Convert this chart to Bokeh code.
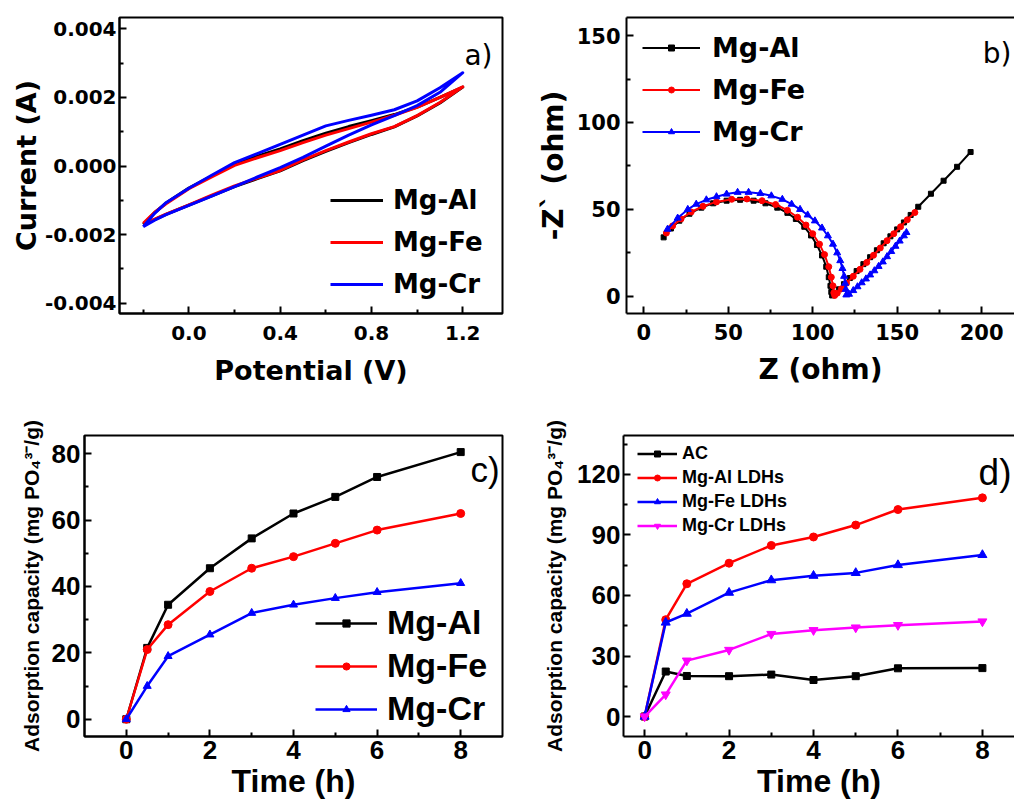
from bokeh.plotting import figure
from bokeh.models import (Range1d, FixedTicker, LinearAxis, Legend, LegendItem,
                          Label, PrintfTickFormatter)
from bokeh.layouts import column, row
from bokeh.embed import file_html
from bokeh.resources import INLINE

# ---------------- data ----------------
# a) cyclic voltammetry: potential grid, upper (anodic) and lower (cathodic) branches
cv_potential = [-0.2, -0.15, -0.1, 0.0, 0.1, 0.2, 0.3, 0.4, 0.5, 0.6, 0.7, 0.8, 0.9, 1.0, 1.1, 1.2]
cv_al_upper = [-0.0017, -0.00136, -0.00108, -0.00064, -0.00029, 0.00005, 0.00029, 0.0005, 0.00074,
               0.00096, 0.00115, 0.00132, 0.0015, 0.00172, 0.002, 0.0023]
cv_al_lower = [-0.0017, -0.00156, -0.00141, -0.00114, -0.00087, -0.0006, -0.00037, -0.00014, 0.00016,
               0.00043, 0.00068, 0.00092, 0.00114, 0.00146, 0.00184, 0.0023]
cv_fe_upper = [-0.00167, -0.00135, -0.0011, -0.00066, -0.00032, 0.00002, 0.00024, 0.00045, 0.00068,
               0.0009, 0.00109, 0.00128, 0.00148, 0.00171, 0.002, 0.00231]
cv_fe_lower = [-0.00167, -0.00155, -0.0014, -0.00113, -0.00085, -0.00058, -0.00035, -0.00013, 0.00018,
               0.00045, 0.0007, 0.00094, 0.00115, 0.00147, 0.00185, 0.00231]
cv_cr_upper = [-0.00177, -0.00138, -0.00107, -0.00065, -0.00027, 0.0001, 0.00036, 0.00063, 0.0009,
               0.00117, 0.00133, 0.00148, 0.00164, 0.0019, 0.00228, 0.00272]
cv_cr_lower = [-0.00177, -0.00158, -0.00142, -0.00115, -0.00088, -0.0006, -0.00032, -0.00005, 0.00025,
               0.00058, 0.0009, 0.0012, 0.00147, 0.00176, 0.00215, 0.00272]
cv_xticks = [0.0, 0.4, 0.8, 1.2]
cv_yticks = [-0.004, -0.002, 0.0, 0.002, 0.004]

# b) Nyquist plots
nyq_al_z = [11.7, 16, 21, 27, 34, 41, 49, 57, 65, 72, 79, 85, 90, 95, 99, 102.5, 105.5, 108, 109.5, 110.5,
            111, 111.5, 113, 115.5, 118.5, 122, 126, 130, 134, 138, 142, 146, 150, 154, 158, 162.5, 170,
            177.5, 185.5, 193.5]
nyq_al_zim = [33.9, 39, 43.5, 47.5, 51, 53.5, 55, 55.5, 55, 53.5, 51, 48, 44.5, 40, 35, 29.5, 23.5, 17, 11,
              6, 2.5, 0.5, 1.5, 4, 7, 10.5, 14.5, 18.5, 22.5, 26.5, 30.5, 34.5, 38.5, 42.5, 46.8, 51.5, 59,
              66.5, 74.5, 83]
nyq_fe_z = [13.3, 17, 22, 28, 35, 43, 52, 61, 70, 78, 85, 91, 96, 100, 104, 107, 109.5, 111, 112, 112.5,
            113, 114.5, 117, 120, 124, 128, 132, 136, 140, 144, 148, 152, 156, 160.5]
nyq_fe_zim = [36.4, 40.5, 44.5, 48.5, 51.8, 54.3, 55.8, 56, 55, 52.8, 49.5, 45.5, 41, 36, 30, 24, 17, 11,
              6, 2, 0.5, 1.8, 4.3, 7.5, 11.5, 15.5, 19.5, 23.6, 27.8, 32, 36, 40, 44, 48.2]
nyq_cr_z = [14, 20, 26, 31, 37, 43, 49, 55.5, 62, 69, 75.5, 82, 87.5, 92.5, 97, 101.3, 105.5, 109, 112,
            114.5, 116.3, 117.6, 118.6, 119.2, 119.6, 119.9, 121.5, 124, 126.5, 129, 131.5, 134, 136.5,
            139, 141.5, 144, 146.5, 149, 151.5, 154, 155.5]
nyq_cr_zim = [38.6, 45, 50, 53, 55.5, 57.3, 58.8, 59.8, 59.8, 59.2, 57.8, 55.8, 53, 50, 46.8, 43.4, 39.3,
              34.8, 30, 25, 20.5, 16, 11.5, 7.5, 4, 0.8, 1.2, 3.3, 5.5, 7.8, 10, 12.3, 14.7, 17.2, 19.8,
              22.8, 25.8, 28.8, 31.8, 34.8, 36.7]
nyq_xticks = [0, 50, 100, 150, 200]
nyq_yticks = [0, 50, 100, 150]

# c) adsorption kinetics of the LDHs
time_h = [0, 0.5, 1, 2, 3, 4, 5, 6, 8]
ads_c_al = [0, 21.5, 34.5, 45.5, 54.5, 62, 67, 73, 80.5]
ads_c_fe = [0, 21, 28.5, 38.5, 45.5, 49, 53, 57, 62]
ads_c_cr = [0, 10, 19, 25.5, 32, 34.5, 36.5, 38.3, 41]
c_xticks = [0, 2, 4, 6, 8]
c_yticks = [0, 20, 40, 60, 80]

# d) adsorption kinetics incl. activated carbon
ads_d_ac = [0, 22.3, 20.1, 20, 20.8, 18.1, 20, 23.9, 24]
ads_d_al = [0, 48, 65.8, 76, 84.8, 89, 94.9, 102.6, 108.4]
ads_d_fe = [0, 46.6, 51, 61.4, 67.6, 69.8, 71.2, 75.1, 80.1]
ads_d_cr = [0, 10.9, 27.7, 33, 40.9, 42.8, 44.1, 45.3, 47.1]
d_xticks = [0, 2, 4, 6, 8]
d_yticks = [0, 30, 60, 90, 120]

BLACK, RED, BLUE, MAG = "#000000", "#ff0000", "#0000ff", "#ff00ff"
WIDE = "DejaVu Sans"
ARIAL = "Liberation Sans"


def style(p, font, tick_px, title_px, xstand=(8, 8), ystand=(6, 2)):
    for ax, (ls, ts) in ((p.below[0], xstand), (p.left[0], ystand)):
        ax.axis_line_width = 2
        ax.axis_line_color = "black"
        ax.major_tick_line_width = 2
        ax.minor_tick_line_width = 2
        ax.major_tick_in = 7
        ax.major_tick_out = 0
        ax.minor_tick_in = 4
        ax.minor_tick_out = 0
        ax.major_label_text_font = font
        ax.major_label_text_font_style = "bold"
        ax.major_label_text_font_size = f"{tick_px}px"
        ax.major_label_text_color = "black"
        ax.major_label_standoff = ls
        ax.axis_label_text_font = font
        ax.axis_label_text_font_style = "bold"
        ax.axis_label_text_font_size = f"{title_px}px"
        ax.axis_label_text_color = "black"
        ax.axis_label_standoff = ts
    p.xgrid.visible = False
    p.ygrid.visible = False
    p.outline_line_color = "black"
    p.outline_line_width = 2
    p.background_fill_color = "white"
    p.border_fill_color = "white"


def add_top_only(p):
    # top frame line without a right border (the reference is cut at the right)
    p.outline_line_color = None
    top = LinearAxis(ticker=FixedTicker(ticks=[], minor_ticks=[]), axis_line_width=2,
                     major_tick_in=0, major_tick_out=0, minor_tick_in=0, minor_tick_out=0,
                     major_label_standoff=0)
    p.add_layout(top, "above")


def legend(p, items, loc, font, size, gw, gh, lh, spacing, standoff):
    lg = Legend(items=[LegendItem(label=l, renderers=r) for l, r in items], location=loc,
                border_line_color=None, background_fill_alpha=0, padding=0, margin=0,
                spacing=spacing, glyph_width=gw, glyph_height=gh, label_height=lh,
                label_standoff=standoff, label_text_font=font, label_text_font_style="bold",
                label_text_font_size=f"{size}px", label_text_color="black")
    p.add_layout(lg)


def tag(p, text, x, y, font, size, align="left"):
    p.add_layout(Label(x=x, y=y, x_units="screen", y_units="screen", text=text, text_font=font,
                       text_font_size=f"{size}px", text_align=align, text_baseline="alphabetic",
                       text_color="black"))


# ---------------- a) ----------------
pa = figure(width=533, height=405, output_backend="svg", toolbar_location=None,
            x_range=Range1d(-0.304, 1.374), y_range=Range1d(-0.0043, 0.00433),
            x_axis_label="Potential (V)", y_axis_label="Current (A)",
            min_border_left=119, min_border_right=31, min_border_top=16, min_border_bottom=92)
style(pa, WIDE, 20, 27, xstand=(12, 12), ystand=(3, 0))
pa.below[0].ticker = FixedTicker(ticks=cv_xticks, minor_ticks=[-0.2, 0.2, 0.6, 1.0])
pa.left[0].ticker = FixedTicker(ticks=cv_yticks, minor_ticks=[-0.003, -0.001, 0.001, 0.003])
pa.below[0].formatter = PrintfTickFormatter(format="%.1f")
pa.left[0].formatter = PrintfTickFormatter(format="%.3f")
loop_x = cv_potential + cv_potential[::-1]
ra = []
for up, lo, col in ((cv_al_upper, cv_al_lower, BLACK), (cv_fe_upper, cv_fe_lower, RED),
                    (cv_cr_upper, cv_cr_lower, BLUE)):
    ra.append(pa.line(loop_x, up + lo[::-1], line_color=col, line_width=3, line_join="round"))
legend(pa, [("Mg-Al", [ra[0]]), ("Mg-Fe", [ra[1]]), ("Mg-Cr", [ra[2]])],
       (211, 14), WIDE, 26, 53, 30, 30, 12, 10)
tag(pa, "a)", 373, 258, WIDE, 28, "right")

# ---------------- b) ----------------
pb = figure(width=481, height=405, output_backend="svg", toolbar_location=None,
            x_range=Range1d(-10.3, 219.5), y_range=Range1d(-9.9, 160.4),
            x_axis_label="Z (ohm)", y_axis_label="-Z` (ohm)",
            min_border_left=88, min_border_right=0, min_border_top=17, min_border_bottom=90)
style(pb, WIDE, 21, 28, xstand=(10, 10), ystand=(6, 4))
pb.below[0].ticker = FixedTicker(ticks=nyq_xticks, minor_ticks=[25, 75, 125, 175])
pb.left[0].ticker = FixedTicker(ticks=nyq_yticks, minor_ticks=[25, 75, 125])
add_top_only(pb)
rb = []
for zx, zy, col, mk, sz in ((nyq_al_z, nyq_al_zim, BLACK, "square", 5),
                            (nyq_fe_z, nyq_fe_zim, RED, "circle", 6),
                            (nyq_cr_z, nyq_cr_zim, BLUE, "triangle", 7)):
    ln = pb.line(zx, zy, line_color=col, line_width=2)
    sc = pb.scatter(zx, zy, marker=mk, size=sz, fill_color=col, line_color=col)
    rb.append([ln, sc])
legend(pb, [("Mg-Al", rb[0]), ("Mg-Fe", rb[1]), ("Mg-Cr", rb[2])],
       (16, 166), WIDE, 27, 58, 15, 31, 11, 12)
tag(pb, "b)", 385, 260, WIDE, 28, "right")

# ---------------- c) ----------------
pc = figure(width=533, height=397, output_backend="svg", toolbar_location=None,
            x_range=Range1d(-1.0, 9.0), y_range=Range1d(-5.2, 85.5),
            x_axis_label="Time (h)", y_axis_label="Adsorption capacity (mg PO\u2084\u00b3\u207b/g)",
            min_border_left=84, min_border_right=31, min_border_top=30, min_border_bottom=65)
style(pc, ARIAL, 26, 32, xstand=(4, 1), ystand=(4, 6))
pc.left[0].axis_label_text_font_size = "21px"
pc.below[0].ticker = FixedTicker(ticks=c_xticks, minor_ticks=[1, 3, 5, 7])
pc.left[0].ticker = FixedTicker(ticks=c_yticks, minor_ticks=[10, 30, 50, 70])
rc = []
for ys, col, mk, sz in ((ads_c_al, BLACK, "square", 7), (ads_c_fe, RED, "circle", 8),
                        (ads_c_cr, BLUE, "triangle", 8)):
    ln = pc.line(time_h, ys, line_color=col, line_width=2.5)
    sc = pc.scatter(time_h, ys, marker=mk, size=sz, fill_color=col, line_color=col)
    rc.append([ln, sc])
legend(pc, [("Mg-Al", rc[0]), ("Mg-Fe", rc[1]), ("Mg-Cr", rc[2])],
       (231, 8), ARIAL, 34, 62, 18, 39, 4, 10)
tag(pc, "c)", 386, 267, ARIAL, 35, "left")

# ---------------- d) ----------------
pd_ = figure(width=481, height=397, output_backend="svg", toolbar_location=None,
             x_range=Range1d(-0.5, 8.76), y_range=Range1d(-9.9, 139.3),
             x_axis_label="Time (h)", y_axis_label="Adsorption capacity (mg PO\u2084\u00b3\u207b/g)",
             min_border_left=90, min_border_right=0, min_border_top=29, min_border_bottom=66)
style(pd_, ARIAL, 26, 32, xstand=(4, 1), ystand=(3, 8))
pd_.left[0].axis_label_text_font_size = "21px"
pd_.below[0].ticker = FixedTicker(ticks=d_xticks, minor_ticks=[1, 3, 5, 7])
pd_.left[0].ticker = FixedTicker(ticks=d_yticks, minor_ticks=[15, 45, 75, 105, 135])
add_top_only(pd_)
rd = []
for ys, col, mk, sz in ((ads_d_ac, BLACK, "square", 7), (ads_d_al, RED, "circle", 8),
                        (ads_d_fe, BLUE, "triangle", 9), (ads_d_cr, MAG, "inverted_triangle", 9)):
    ln = pd_.line(time_h, ys, line_color=col, line_width=2.5)
    sc = pd_.scatter(time_h, ys, marker=mk, size=sz, fill_color=col, line_color=col)
    rd.append([ln, sc])
legend(pd_, [("AC", rd[0]), ("Mg-Al LDHs", rd[1]), ("Mg-Fe LDHs", rd[2]), ("Mg-Cr LDHs", rd[3])],
       (14, 200), ARIAL, 18, 40, 15, 21, 3, 5)
tag(pd_, "d)", 388, 264, ARIAL, 37, "right")

layout = column(row(pa, pb), row(pc, pd_))
open("out.html", "w").write(file_html(layout, INLINE))
